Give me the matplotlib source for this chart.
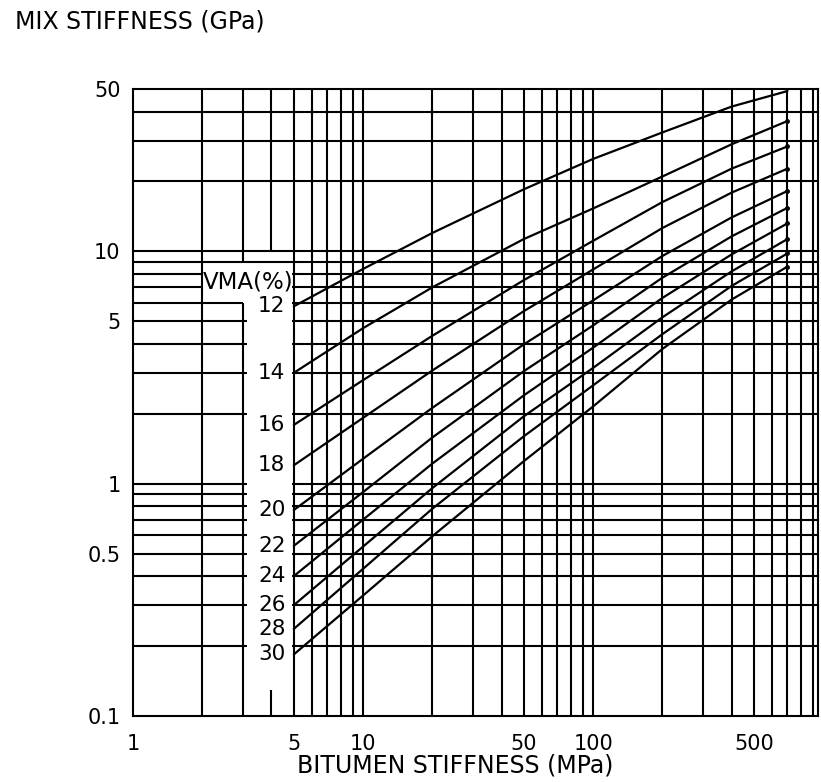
import numpy as np
import matplotlib.pyplot as plt
from matplotlib.ticker import NullLocator

# bitumen stiffness (MPa) where the curves were read
bit_stiff = [5, 10, 20, 50, 100, 200, 400, 700]

# mix stiffness (GPa) for each VMA (%)
vma = [12, 14, 16, 18, 20, 22, 24, 26, 28, 30]
mix_12 = [5.8, 8.4, 12.0, 18.5, 25.0, 32.5, 42.0, 49.0]
mix_14 = [3.0, 4.67, 7.0, 11.3, 15.3, 21.0, 28.9, 36.4]
mix_16 = [1.79, 2.79, 4.33, 7.52, 11.1, 16.3, 22.7, 28.3]
mix_18 = [1.2, 1.92, 3.07, 5.53, 8.36, 12.6, 17.9, 22.7]
mix_20 = [0.77, 1.28, 2.12, 3.98, 6.15, 9.55, 14.0, 18.2]
mix_22 = [0.54, 0.92, 1.58, 3.05, 4.8, 7.7, 11.6, 15.4]
mix_24 = [0.40, 0.70, 1.22, 2.4, 3.85, 6.3, 9.7, 13.2]
mix_26 = [0.30, 0.536, 0.957, 1.95, 3.15, 5.2, 8.2, 11.3]
mix_28 = [0.237, 0.43, 0.78, 1.6, 2.65, 4.4, 7.1, 9.8]
mix_30 = [0.184, 0.33, 0.594, 1.25, 2.15, 3.8, 6.2, 8.6]
curves = [mix_12, mix_14, mix_16, mix_18, mix_20,
          mix_22, mix_24, mix_26, mix_28, mix_30]

xticks = [1, 5, 10, 50, 100, 500]
yticks = [0.1, 0.5, 1, 5, 10, 50]
ytick_labels = ['0.1', '0.5', '1', '5', '10', '50']

XMIN, XMAX = 1, 950
YMIN, YMAX = 0.1, 50
lw = 1.5
k = 'black'

fig = plt.figure(figsize=(8.21, 7.82), dpi=100)
ax = fig.add_axes([133/821, 1 - 716/782, 685/821, 627/782])
ax.set_xscale('log')
ax.set_yscale('log')
ax.set_xlim(XMIN, XMAX)
ax.set_ylim(YMIN, YMAX)

# grid drawn by hand, with the blank strip for the labels
grid_x = [m * 10**d for d in range(3) for m in range(1, 10)][1:]
for xv in grid_x:
    if xv == 3:
        ax.vlines(3, 9, YMAX, color=k, lw=lw)
        ax.vlines(3, YMIN, 6, color=k, lw=lw)
    elif xv == 4:
        ax.vlines(4, 10, YMAX, color=k, lw=lw)
        ax.vlines(4, YMIN, 0.13, color=k, lw=lw)
    else:
        ax.vlines(xv, YMIN, YMAX, color=k, lw=lw)

grid_y = [m * 10**d for d in range(-1, 2) for m in range(1, 10)][1:]
grid_y = [g for g in grid_y if g < YMAX]
for yv in grid_y:
    if yv < 5.9:
        ax.hlines(yv, XMIN, 3.12, color=k, lw=lw)
        ax.hlines(yv, 4.9, XMAX, color=k, lw=lw)
    elif yv < 6.5:
        ax.hlines(yv, XMIN, 3.0, color=k, lw=lw)
        ax.hlines(yv, 4.9, XMAX, color=k, lw=lw)
    elif yv < 8.5:
        ax.hlines(yv, XMIN, 2.0, color=k, lw=lw)
        ax.hlines(yv, 4.9, XMAX, color=k, lw=lw)
    else:
        ax.hlines(yv, XMIN, XMAX, color=k, lw=lw)

for v, mix in zip(vma, curves):
    ax.plot(bit_stiff, mix, color=k, lw=1.6, solid_capstyle='round')
    if v != 12:
        ax.plot(bit_stiff[-1], mix[-1], 'o', color=k, ms=2.5)
    ax.text(4.6, mix[0], str(v), ha='right', va='center', fontsize=15.5)

ax.text(2.02, 7.4, 'VMA(%)', ha='left', va='center', fontsize=16.5)

for s in ax.spines.values():
    s.set_color(k)
    s.set_linewidth(lw)

ax.xaxis.set_minor_locator(NullLocator())
ax.yaxis.set_minor_locator(NullLocator())
ax.set_xticks(xticks)
ax.set_xticklabels([str(t) for t in xticks])
ax.set_yticks(yticks)
ax.set_yticklabels(ytick_labels)
ax.tick_params(length=0, labelsize=15, pad=9)
ax.tick_params(axis='x', pad=13)

fig.text(15/821, 1 - 22/782, 'MIX STIFFNESS (GPa)', fontsize=17, va='center')
fig.text(455/821, 1 - 765/782, 'BITUMEN STIFFNESS (MPa)', fontsize=17,
         ha='center', va='center')

fig.savefig('out.png', dpi=100)
